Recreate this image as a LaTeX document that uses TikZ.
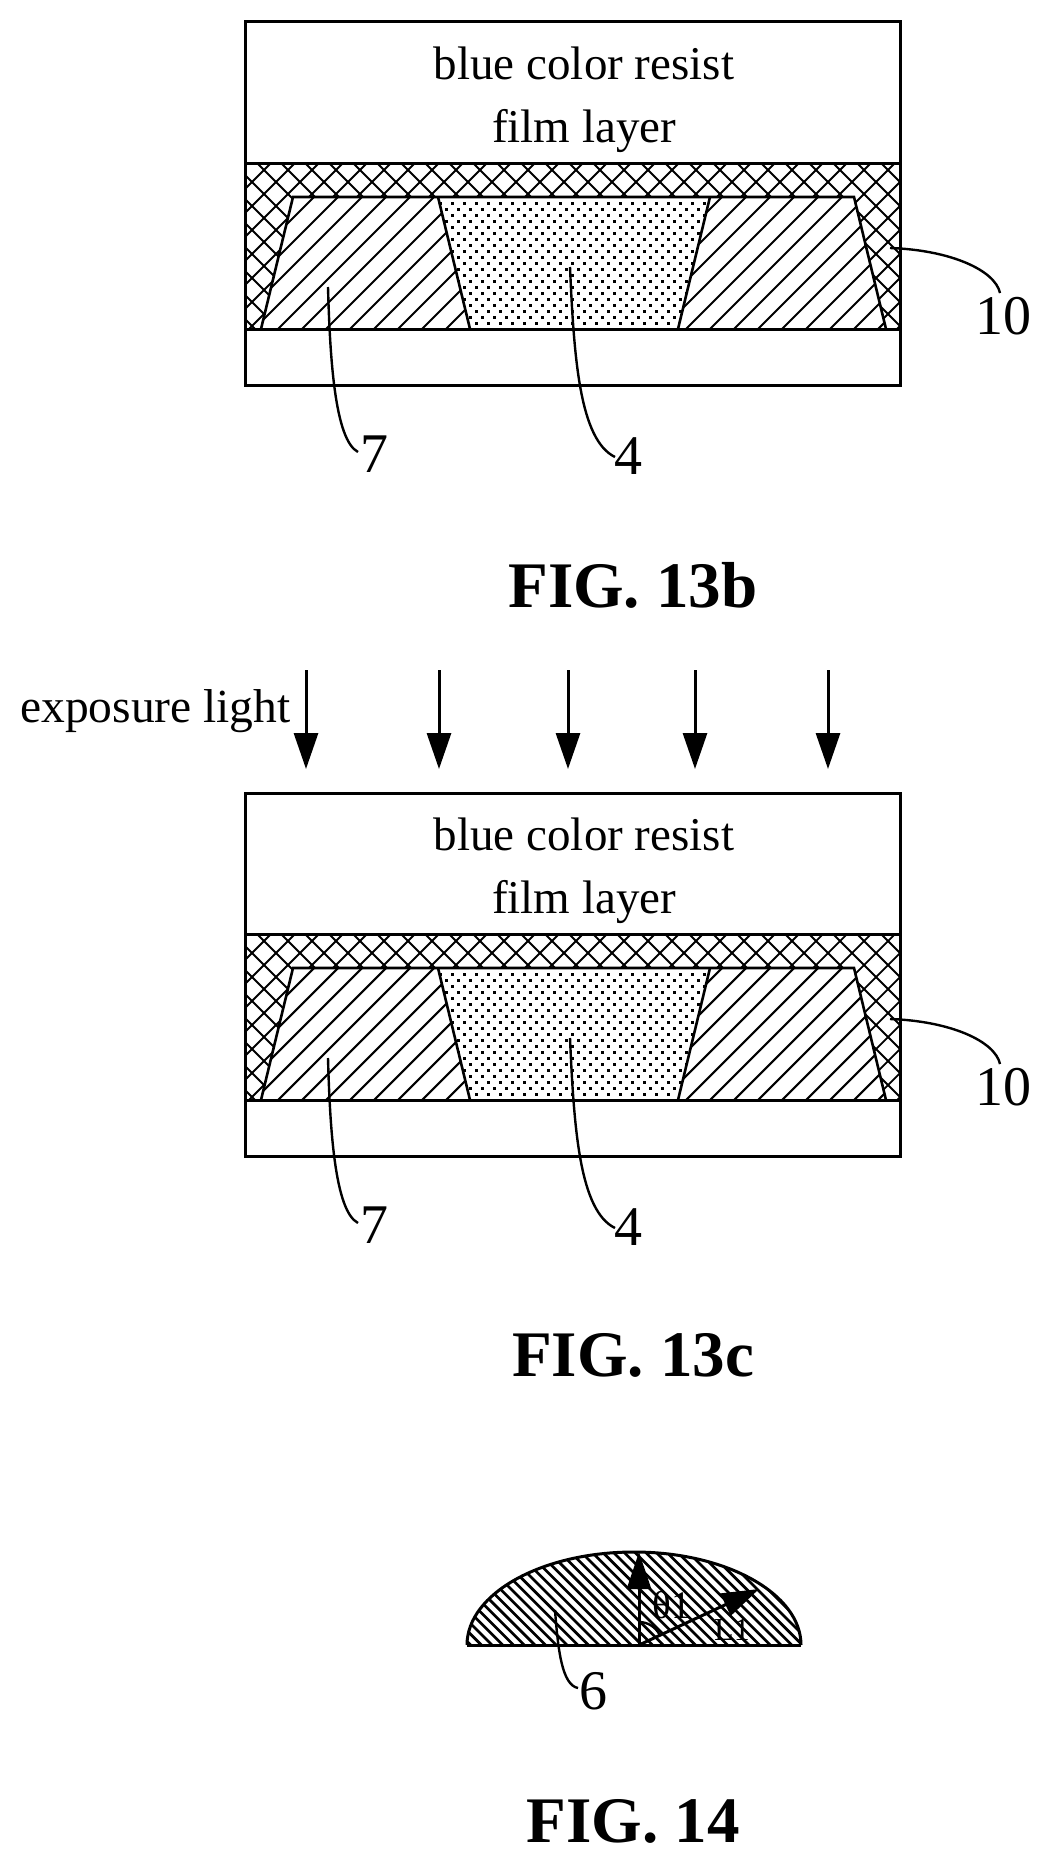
\documentclass[tikz,border=0pt]{standalone}
\usepackage{fontspec}
\setmainfont{Liberation Serif}
\usetikzlibrary{arrows.meta}
\newcommand{\fsz}[1]{\fontsize{#1}{#1}\selectfont}
\tikzset{
  outline/.style={draw=black,line width=3pt,line join=miter},
  thinout/.style={draw=black,line width=2.6pt},
  crossline/.style={draw=black,line width=1.8pt},
  stripeline/.style={draw=black,line width=2.1pt},
  domeline/.style={draw=black,line width=2.7pt},
  leader/.style={draw=black,line width=2.4pt},
  bodytext/.style={font=\fsz{47},inner sep=0pt,anchor=center},
  reftext/.style={font=\fsz{56},inner sep=0pt,anchor=center},
  figtext/.style={font=\fsz{65}\bfseries,inner sep=0pt,anchor=center},
  bigarrow/.style={draw=black,line width=3pt,-{Triangle[length=36pt,width=24pt]}},
  smallarrow/.style={draw=black,line width=3pt,-{Triangle[length=37pt,width=24pt]}}
}
\begin{document}
\begin{tikzpicture}[x=1pt,y=-1pt]
\useasboundingbox (0,0) rectangle (1047,1865);
\fill[white] (0,0) rectangle (1047,1865);

\foreach \sfx/\sh in {a/0,b/771}{
\begin{scope}[shift={(0,\sh)}]
  \begin{scope}
    \clip (245,163) rectangle (900,329);
    \foreach \i in {0,...,36}{
      \draw[crossline] ({410+\i*24-163},163) -- ({410+\i*24-329},329);
      \draw[crossline] ({-74+\i*24+163},163) -- ({-74+\i*24+329},329);
    }
  \end{scope}
  \fill[white] (293,197) -- (854,197) -- (886,329) -- (261,329) -- cycle;
  \begin{scope}
    \clip (293,197) -- (854,197) -- (886,329) -- (261,329) -- cycle;
    \foreach \i in {0,...,33}{
      \draw[stripeline] ({439+\i*24-197},197) -- ({439+\i*24-329},329);
    }
  \end{scope}
  \fill[white] (438,197) -- (710,197) -- (678,329) -- (470,329) -- cycle;
  \begin{scope}
    \clip (438,198) -- (710,198) -- (678,329) -- (470,329) -- cycle;
    \foreach \r in {0,2,...,20}{
      \foreach \c in {0,...,23}{
        \fill[black] ({428.7+\c*12-1.5},{203.3+\r*6-1.5}) rectangle ++(3,3);
        \fill[black] ({434.7+\c*12-1.5},{209.3+\r*6-1.5}) rectangle ++(3,3);
      }
    }
  \end{scope}
  \draw[outline] (245,22) rectangle (900,385);
  \draw[outline] (245,163) -- (900,163);
  \draw[outline] (245,329) -- (900,329);
  \draw[thinout] (261,329) -- (293,197) -- (854,197) -- (886,329);
  \draw[thinout] (438,197) -- (470,329);
  \draw[thinout] (710,197) -- (678,329);
  \node[bodytext] (blue\sfx) at (584,63) {blue color resist};
  \node[bodytext] (film\sfx) at (584,131) {film layer};
  \node[reftext] (seven\sfx) at (374,454) {7};
  \node[reftext] (four\sfx) at (628,456) {4};
  \node[reftext] (ten\sfx) at (1003,316) {10};
  \coordinate (s7\sfx) at (328,287);
  \coordinate (s4\sfx) at (570,267);
  \coordinate (s10\sfx) at (890,248);
  \draw[leader] (s7\sfx) .. controls (330,360) and (335,440) .. (358,452);
  \draw[leader] (s4\sfx) .. controls (574,360) and (580,440) .. (615,457);
  \draw[leader] (s10\sfx) .. controls (950,250) and (995,270) .. (1000,293);
\end{scope}
}

\node[figtext] (figb) at (633,585) {FIG. 13b};
\node[figtext] (figc) at (633,1355) {FIG. 13c};
\node[figtext] (figd) at (633,1821) {FIG. 14};

\node[font=\fsz{47.5},inner sep=0pt,anchor=base west] (expo) at (20,722) {exposure light};
\foreach \i/\x in {1/306,2/439,3/568,4/695,5/828}{
  \coordinate (lt\i) at (\x,670);
  \coordinate (lb\i) at (\x,769);
  \draw[bigarrow] (lt\i) -- (lb\i);
}

% FIG. 14 dome
\coordinate (dc) at (639,1645);
\begin{scope}
  \clip (467,1645) arc[start angle=180,end angle=0,x radius=167,y radius=-93] -- cycle;
  \foreach \i in {0,...,42}{
    \draw[domeline] ({360+\i*10.7},1545) -- ({360+\i*10.7+110},1655);
  }
\end{scope}
\draw[draw=black,line width=3pt] (467,1645) arc[start angle=180,end angle=0,x radius=167,y radius=-93];
\draw[draw=black,line width=3pt] (467,1645) -- (801,1645);
\coordinate (up) at (639,1552);
\coordinate (slant) at (759,1589);
\draw[smallarrow] (dc) -- (up);
\draw[smallarrow] (dc) -- (slant);
\draw[draw=black,line width=2.4pt] (639,1622) arc[start angle=-90,end angle=-27,radius=23];
\node[font=\fsz{39},inner sep=0pt] (theta) at (672,1605) {θ1};
\node[font=\fsz{32},inner sep=0pt] (lone) at (732,1630) {L1};
\node[reftext] (six) at (593,1691) {6};
\coordinate (s6) at (555,1610);
\draw[leader] (s6) .. controls (558,1650) and (562,1685) .. (578,1688);
\end{tikzpicture}
\end{document}
